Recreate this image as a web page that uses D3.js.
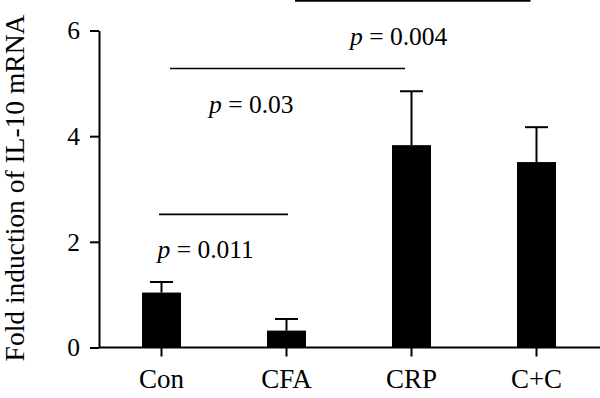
<!DOCTYPE html>
<html>
<head>
<meta charset="utf-8">
<script src="https://cdn.jsdelivr.net/npm/d3@7"></script>
<style>
  html, body { margin: 0; padding: 0; background: #fff; }
  svg { display: block; }
  text { font-family: "Liberation Serif", "Times New Roman", serif; fill: #000; }
</style>
</head>
<body>
<svg id="chart" width="600" height="398"></svg>
<script>
// ---- data ----
const categories = ["Con", "CFA", "CRP", "C+C"];
const means = [1.04, 0.32, 3.83, 3.51];
const errUpper = [1.24, 0.54, 4.85, 4.17];
const yTicks = [0, 2, 4, 6];
const yTitle = "Fold induction of IL-10 mRNA";
const compFrom = ["Con", "Con", "CFA"];
const compTo = ["CFA", "CRP", "C+C"];
const compLevel = [2.52, 5.28, 6.56];
const compP = ["0.011", "0.03", "0.004"];

// ---- layout ----
const svg = d3.select("#chart");
const x = d3.scaleBand().domain(categories).range([99, 599]).paddingInner(0.688).paddingOuter(0.344);
const y = d3.scaleLinear().domain([0, 6]).range([347.5, 30.5]);

// y axis
const yAxis = d3.axisLeft(y).tickValues(yTicks).tickSize(9).tickSizeOuter(0).tickPadding(10).tickFormat(d3.format("d"));
const gy = svg.append("g").attr("transform", "translate(99,0)").call(yAxis);
gy.attr("font-family", null);
gy.select(".domain").attr("stroke", "#000").attr("stroke-width", 2);
gy.selectAll(".tick line").attr("stroke", "#000").attr("stroke-width", 2);
gy.selectAll(".tick text").style("font-family", "'Liberation Serif', serif").style("font-size", "25.5px").attr("fill", "#000");

// x axis (line extends to right edge)
const xAxis = d3.axisBottom(x).tickSize(9).tickSizeOuter(0).tickPadding(12);
const gx = svg.append("g").attr("transform", "translate(0,347.5)").call(xAxis);
gx.attr("font-family", null);
gx.select(".domain").attr("stroke", "#000").attr("stroke-width", 2).attr("d", "M99,0H600");
gx.selectAll(".tick line").attr("stroke", "#000").attr("stroke-width", 2);
gx.selectAll(".tick text").style("font-family", "'Liberation Serif', serif").style("font-size", "27px").attr("fill", "#000");

// bars
const bw = x.bandwidth();
svg.append("g").selectAll("rect").data(categories).join("rect")
  .attr("x", d => x(d))
  .attr("y", (d, i) => y(means[i]))
  .attr("width", bw)
  .attr("height", (d, i) => y(0) - y(means[i]))
  .attr("fill", "#000");

// error bars
const eg = svg.append("g").attr("stroke", "#000").attr("stroke-width", 2);
categories.forEach((c, i) => {
  const cx = x(c) + bw / 2;
  eg.append("line").attr("x1", cx).attr("x2", cx).attr("y1", y(means[i])).attr("y2", y(errUpper[i]));
  eg.append("line").attr("x1", cx - 11.5).attr("x2", cx + 11.5).attr("y1", y(errUpper[i])).attr("y2", y(errUpper[i]));
});

// significance lines
const insetL = [-2.5, 8.5, 8.5];
const insetR = [1.5, -6.5, -6];
const textOff = [-1.5, 39, 55];
compFrom.forEach((f, i) => {
  const x1 = x(f) + bw / 2 + insetL[i];
  const x2 = x(compTo[i]) + bw / 2 + insetR[i];
  const ly = y(compLevel[i]);
  svg.append("line").attr("x1", x1).attr("x2", x2).attr("y1", ly).attr("y2", ly)
    .attr("stroke", "#000").attr("stroke-width", 1.6);
  const t = svg.append("text").attr("x", x1 + textOff[i]).attr("y", ly + 44)
    .style("font-size", "25.5px").attr("xml:space", "preserve");
  t.append("tspan").style("font-style", "italic").text("p");
  t.append("tspan").text(" = " + compP[i]);
});

// y title
svg.append("text")
  .attr("transform", "translate(24,188) rotate(-90)")
  .attr("text-anchor", "middle")
  .style("font-size", "27.5px")
  .text(yTitle);
</script>
</body>
</html>
